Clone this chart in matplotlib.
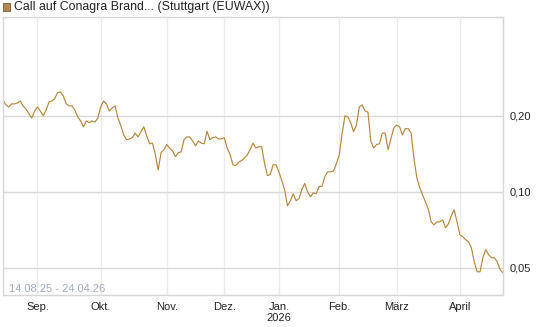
import numpy as np
import pandas as pd
import matplotlib
matplotlib.use("Agg")
import matplotlib.pyplot as plt
from matplotlib.patches import Rectangle

plt.rcParams['font.family'] = ['Liberation Sans', 'DejaVu Sans']

# %% data
title = "Call auf Conagra Brand... (Stuttgart (EUWAX))"
range_label = "14.08.25 - 24.04.26"
holidays = ['2025-12-24', '2025-12-25', '2025-12-26', '2025-12-31',
            '2026-01-01', '2026-04-03', '2026-04-06']
month_labels = ['Sep.', 'Okt.', 'Nov.', 'Dez.', 'Jan.\n2026', 'Feb.', 'März', 'April']
y_ticks = [0.05, 0.10, 0.20]
y_tick_labels = ['0,05', '0,10', '0,20']

prices = [
    0.231, 0.221, 0.217, 0.223, 0.223, 0.225, 0.229, 0.219, 0.213, 0.204,
    0.196, 0.209, 0.217, 0.209, 0.200, 0.211, 0.227, 0.229, 0.234, 0.247,
    0.249, 0.240, 0.223, 0.219, 0.219, 0.211, 0.198, 0.191, 0.181, 0.191,
    0.188, 0.191, 0.189, 0.196, 0.217, 0.229, 0.223, 0.209, 0.215, 0.219,
    0.196, 0.183, 0.168, 0.161, 0.162, 0.164, 0.171, 0.165, 0.173, 0.181,
    0.167, 0.155, 0.156, 0.141, 0.122, 0.143, 0.147, 0.154, 0.149, 0.145,
    0.138, 0.143, 0.144, 0.161, 0.165, 0.165, 0.159, 0.152, 0.159, 0.156,
    0.155, 0.174, 0.161, 0.164, 0.165, 0.162, 0.162, 0.164, 0.149, 0.141,
    0.128, 0.127, 0.131, 0.133, 0.136, 0.140, 0.147, 0.156, 0.149, 0.151,
    0.151, 0.130, 0.116, 0.117, 0.128, 0.128, 0.120, 0.111, 0.102, 0.0880,
    0.0922, 0.0982, 0.0922, 0.0939, 0.102, 0.108, 0.100, 0.0956, 0.0991, 0.0982,
    0.105, 0.105, 0.115, 0.120, 0.120, 0.121, 0.129, 0.140, 0.170, 0.200,
    0.198, 0.188, 0.173, 0.184, 0.217, 0.221, 0.209, 0.207, 0.159, 0.149,
    0.154, 0.155, 0.171, 0.171, 0.147, 0.162, 0.179, 0.184, 0.181, 0.168,
    0.178, 0.178, 0.171, 0.136, 0.114, 0.104, 0.0973, 0.0913, 0.0856, 0.0760,
    0.0740, 0.0760, 0.0760, 0.0774, 0.0721, 0.0747, 0.0803, 0.0848, 0.0760, 0.0676,
    0.0664, 0.0646, 0.0634, 0.0600, 0.0528, 0.0482, 0.0482, 0.0548, 0.0590, 0.0563,
    0.0548, 0.0548, 0.0528, 0.0491, 0.0478,
]

# %% trading calendar -> index axis
dates = pd.bdate_range('2025-08-14', '2026-04-24')
dates = dates[~dates.isin(pd.to_datetime(holidays))]
price_tbl = pd.DataFrame({'date': dates[:len(prices)], 'price': prices})
price_tbl['idx'] = np.arange(len(price_tbl))
month_start_idx = price_tbl.groupby(price_tbl.date.dt.to_period('M')).idx.min().to_numpy()[1:]

# %% plot
W, H = 545, 327
fig = plt.figure(figsize=(W / 100, H / 100), dpi=100)
ax = fig.add_axes([3 / W, 1 - 295 / H, 500 / W, 278 / H])

ax.plot(price_tbl.idx, price_tbl.price, color='#b8863b', linewidth=0.85)

ax.set_yscale('log')
ax.set_xlim(0, len(price_tbl) - 1)
ax.set_ylim(0.039, 0.493)
ax.set_yticks(y_ticks)
ax.set_yticklabels(y_tick_labels)
ax.yaxis.set_minor_locator(plt.NullLocator())
ax.yaxis.tick_right()
ax.set_xticks(month_start_idx)
ax.set_xticklabels(month_labels)
ax.tick_params(axis='both', length=0, labelsize=8, colors='#222222')
ax.tick_params(axis='y', pad=5)
ax.tick_params(axis='x', pad=5)
for lab in ax.get_xticklabels():
    lab.set_linespacing(1.15)
    lab.set_verticalalignment('top')

ax.grid(axis='y', color='#d9d9d9', linewidth=1)
ax.grid(axis='x', color='#ebebeb', linewidth=1)
ax.set_axisbelow(True)
for side in ['left', 'bottom', 'top', 'right']:
    ax.spines[side].set_color('#d6d6d6')
    ax.spines[side].set_linewidth(1)

ax.text(6 / 500, 1.5 / 278, range_label, transform=ax.transAxes,
        fontsize=8, color='#a3abbd', ha='left', va='bottom')

fig.add_artist(Rectangle((3 / W, 1 - 10.5 / H), 7 / W, 7 / H, transform=fig.transFigure,
                         facecolor='#b8864a', edgecolor='#6b5a40', linewidth=0.6))
fig.text(14 / W, 1 - 7 / H, title, fontsize=8.9, color='#222222', ha='left', va='center')

fig.savefig('out.png', dpi=100)
